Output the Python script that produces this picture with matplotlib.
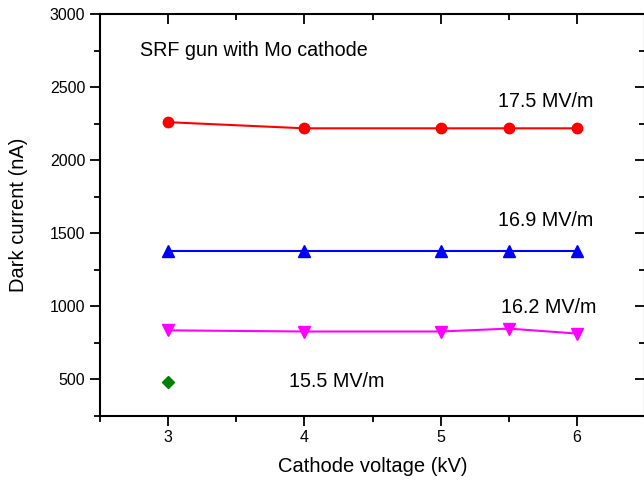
import matplotlib
matplotlib.use("Agg")
import matplotlib.pyplot as plt
from matplotlib.ticker import MultipleLocator

plt.rcParams['font.family'] = ['Liberation Sans', 'DejaVu Sans']

voltage = [3, 4, 5, 5.5, 6]
current_175 = [2260, 2218, 2218, 2218, 2218]
current_169 = [1380, 1380, 1380, 1380, 1380]
current_162 = [836, 828, 828, 848, 814]
voltage_155 = [3]
current_155 = [480]

labels = ["17.5 MV/m", "16.9 MV/m", "16.2 MV/m", "15.5 MV/m"]

fig = plt.figure(figsize=(6.44, 4.83), dpi=100)
W, H = 644, 483
ax = fig.add_axes([100 / W, 1 - 416 / H, 545 / W, 402 / H])

ax.plot(voltage, current_175, color='red', marker='o', ms=7.5, lw=1.5)
ax.plot(voltage, current_169, color='blue', marker='^', ms=8, lw=1.5)
ax.plot(voltage, current_162, color='magenta', marker='v', ms=8, lw=1.5)
ax.plot(voltage_155, current_155, color='green', marker='D', ms=6, lw=0)

ax.set_xlim(2.5, 6.5)
ax.set_ylim(250, 3000)
ax.xaxis.set_major_locator(MultipleLocator(1))
ax.xaxis.set_minor_locator(MultipleLocator(0.5))
ax.yaxis.set_major_locator(MultipleLocator(500))
ax.yaxis.set_minor_locator(MultipleLocator(250))

for s in ax.spines.values():
    s.set_linewidth(1.5)

ax.tick_params(which='both', labelsize=11.5, width=1.3, top=True, right=True)
ax.tick_params(axis='x', which='both', direction='out', pad=3)
ax.tick_params(axis='y', which='both', direction='out')
ax.tick_params(which='major', length=7)
ax.tick_params(which='minor', length=4)
# Mirror ticks on top/right point inward
for t in ax.xaxis.get_major_ticks() + ax.xaxis.get_minor_ticks():
    t.tick2line.set_marker(3)
for t in ax.yaxis.get_major_ticks() + ax.yaxis.get_minor_ticks():
    t.tick2line.set_marker(0)

ax.set_xlabel("Cathode voltage (kV)", fontsize=14.5, labelpad=9)
ax.set_ylabel("Dark current (nA)", fontsize=14.5, labelpad=16)

ax.text(140 / W, 1 - 50 / H, "SRF gun with Mo cathode", transform=fig.transFigure,
        fontsize=14.2, va='center', ha='left')
ax.text(5.77, 2400, labels[0], fontsize=14.2, ha='center', va='center')
ax.text(5.77, 1587, labels[1], fontsize=14.2, ha='center', va='center')
ax.text(5.79, 992, labels[2], fontsize=14.2, ha='center', va='center')
ax.text(4.24, 486, labels[3], fontsize=14.2, ha='center', va='center')

fig.savefig("out.png", dpi=100)
